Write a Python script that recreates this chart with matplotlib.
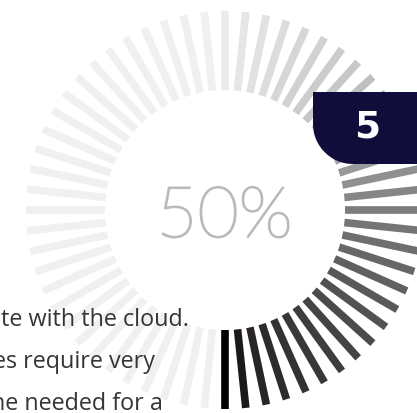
import numpy as np
import matplotlib
matplotlib.use("Agg")
from matplotlib import pyplot as plt
from matplotlib import patheffects
from matplotlib.colors import LinearSegmentedColormap
from matplotlib.path import Path
from matplotlib.patches import PathPatch

# gauge data
percent = 50
n_spokes = 60
badge_label = "5"
text_lines = ["te with the cloud.", "es require very", "ne needed for a"]

W, H = 417, 414
fig = plt.figure(figsize=(W / 100, H / 100), dpi=100)
fig.patch.set_facecolor("white")

# polar axes centred on the gauge, 1 data unit = 1 pixel
cx, cy, R = 225, 211, 200
ax = fig.add_axes([(cx - R) / W, (H - cy - R) / H, 2 * R / W, 2 * R / H],
                  projection="polar")
ax.set_ylim(0, R)
ax.set_axis_off()

r_in, r_out = 120, 199
cmap = LinearSegmentedColormap.from_list(
    "gauge",
    [(0.0, "#ebebed"), (0.25, "#c4c4c7"), (0.5, "#7c7c7f"),
     (0.75, "#484849"), (0.96, "#242021"), (1.0, "#000000")])
idle = "#eff0f2"

angles = np.arange(n_spokes) * 360 / n_spokes
for a in angles:
    # clockwise distance from the top
    dist = (90 - a) % 360
    frac = dist / 360
    if frac <= percent / 100 + 1e-9:
        color = cmap(frac / (percent / 100))
    else:
        color = idle
    th = np.deg2rad(a)
    ax.plot([th, th], [r_in, r_out], color=color, lw=5.5,
            solid_capstyle="butt")

# overlay in pixel coordinates for labels and badge
ov = fig.add_axes([0, 0, 1, 1])
ov.set_xlim(0, W)
ov.set_ylim(H, 0)
ov.set_axis_off()
ov.patch.set_alpha(0)

pct_color = "#b9babc"
ov.text(cx - 0.5, 238, f"{percent}%", ha="center", va="baseline",
        fontsize=51, color=pct_color, family="Lato", fontweight="light",
        path_effects=[patheffects.withStroke(linewidth=1.3,
                                             foreground=pct_color)])

# badge with rounded lower-left corner
x0, y0, y1, rad = 313, 93, 165, 40
k = 0.5523 * rad
verts = [(W + 5, y0), (x0, y0), (x0, y1 - rad),
         (x0, y1 - rad + k), (x0 + rad - k, y1), (x0 + rad, y1),
         (W + 5, y1), (W + 5, y0)]
codes = [Path.MOVETO, Path.LINETO, Path.LINETO,
         Path.CURVE4, Path.CURVE4, Path.CURVE4,
         Path.LINETO, Path.CLOSEPOLY]
ov.add_patch(PathPatch(Path(verts, codes), facecolor="#100d3b",
                       edgecolor="none"))
ov.text(367.5, 138, badge_label, ha="center", va="baseline", fontsize=27,
        fontweight="bold", color="white", family="DejaVu Sans")

line_right = [189, 155, 163]
line_base = [326, 368, 410]
for s, xr, yb in zip(text_lines, line_right, line_base):
    ov.text(xr, yb, s, ha="right", va="baseline", fontsize=16.8,
            color="#353535", family="Open Sans")

fig.savefig("out.png", dpi=100)
